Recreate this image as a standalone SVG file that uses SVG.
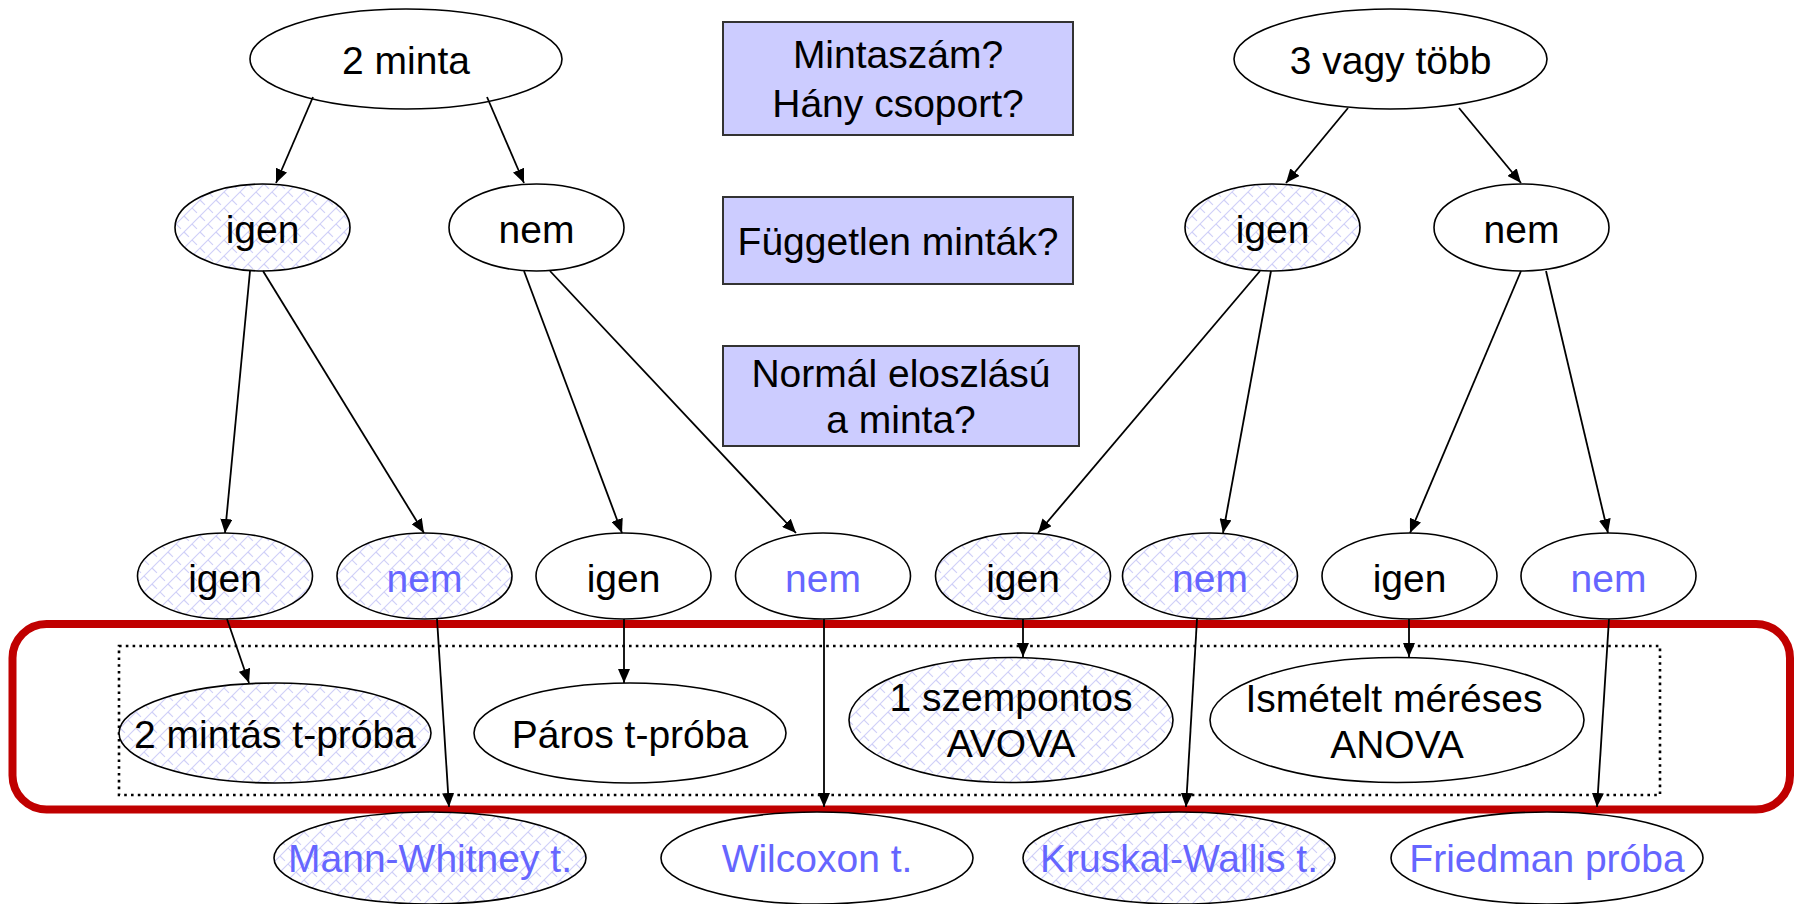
<svg xmlns="http://www.w3.org/2000/svg" width="1801" height="904" viewBox="0 0 1801 904">
<style>
text{font-family:"Liberation Sans",Arial,sans-serif;font-size:39px;text-anchor:middle;fill:#000}
.b{fill:#6666ff}
.n{stroke:#000;stroke-width:1.6;fill:#fff}
.h{stroke:#000;stroke-width:1.6;fill:url(#hatch)}
.q{fill:#ccccff;stroke:#333;stroke-width:2}
.c line{stroke:#000;stroke-width:1.8;marker-end:url(#ah)}
</style>
<defs>
<pattern id="hatch" patternUnits="userSpaceOnUse" width="16" height="16">
<rect width="16" height="16" fill="#fff"/>
<path d="M0,16 L16,0 M-4,4 L4,-4 M12,20 L20,12" stroke="#cfcff8" stroke-width="1.1"/>
<path d="M0,0 L16,16" stroke="#cfcff8" stroke-width="1.1" stroke-dasharray="7 4.3"/>
</pattern>
<marker id="ah" markerUnits="userSpaceOnUse" markerWidth="14" markerHeight="12" refX="14" refY="6" orient="auto">
<path d="M0,0 L14,6 L0,12 z" fill="#000"/>
</marker>
</defs>
<rect width="1801" height="904" fill="#fff"/>
<g id="frames">
<rect x="12.5" y="624" width="1777.5" height="185.5" rx="34" fill="none" stroke="#c00000" stroke-width="8"/>
<rect x="119" y="646" width="1541" height="149" fill="none" stroke="#000" stroke-width="2.6" stroke-dasharray="2.6 4.2"/>
</g>
<g id="q1"><rect class="q" x="723" y="22" width="350" height="113"/><text x="898" y="68">Mintaszám?</text><text x="898" y="117">Hány csoport?</text></g>
<g id="q2"><rect class="q" x="723" y="197" width="350" height="87"/><text x="898" y="255">Független minták?</text></g>
<g id="q3"><rect class="q" x="723" y="346" width="356" height="100"/><text x="901" y="387">Normál eloszlású</text><text x="901" y="433">a minta?</text></g>
<g id="n_2minta"><ellipse class="n" cx="406" cy="59" rx="156" ry="50"/><text x="406" y="74">2 minta</text></g>
<g id="n_3vagy"><ellipse class="n" cx="1390.5" cy="59" rx="156.5" ry="50"/><text x="1390.5" y="74">3 vagy több</text></g>
<g id="n_igen_a"><ellipse class="h" cx="262.5" cy="227.5" rx="87.5" ry="43.5"/><text x="262.5" y="243">igen</text></g>
<g id="n_nem_a"><ellipse class="n" cx="536.5" cy="227.5" rx="87.5" ry="43.5"/><text x="536.5" y="243">nem</text></g>
<g id="n_igen_b"><ellipse class="h" cx="1272.5" cy="227.5" rx="87.5" ry="43.5"/><text x="1272.5" y="243">igen</text></g>
<g id="n_nem_b"><ellipse class="n" cx="1521.5" cy="227.5" rx="87.5" ry="43.5"/><text x="1521.5" y="243">nem</text></g>
<g id="l3_1"><ellipse class="h" cx="225" cy="576" rx="87.5" ry="43"/><text x="225" y="592">igen</text></g>
<g id="l3_2"><ellipse class="h" cx="424.5" cy="576" rx="87.5" ry="43"/><text class="b" x="424.5" y="592">nem</text></g>
<g id="l3_3"><ellipse class="n" cx="623.5" cy="576" rx="87.5" ry="43"/><text x="623.5" y="592">igen</text></g>
<g id="l3_4"><ellipse class="n" cx="823" cy="576" rx="87.5" ry="43"/><text class="b" x="823" y="592">nem</text></g>
<g id="l3_5"><ellipse class="h" cx="1023" cy="576" rx="87.5" ry="43"/><text x="1023" y="592">igen</text></g>
<g id="l3_6"><ellipse class="h" cx="1210" cy="576" rx="87.5" ry="43"/><text class="b" x="1210" y="592">nem</text></g>
<g id="l3_7"><ellipse class="n" cx="1409.5" cy="576" rx="87.5" ry="43"/><text x="1409.5" y="592">igen</text></g>
<g id="l3_8"><ellipse class="n" cx="1608.5" cy="576" rx="87.5" ry="43"/><text class="b" x="1608.5" y="592">nem</text></g>
<g id="t_2mintas"><ellipse class="h" cx="275" cy="733" rx="156" ry="50"/><text x="275" y="748">2 mintás t-próba</text></g>
<g id="t_paros"><ellipse class="n" cx="630" cy="733" rx="156" ry="50"/><text x="630" y="748">Páros t-próba</text></g>
<g id="t_1szemp"><ellipse class="h" cx="1011" cy="720" rx="162" ry="62.5"/><text x="1011" y="711">1 szempontos</text><text x="1011" y="757">AVOVA</text></g>
<g id="t_ismetelt"><ellipse class="n" cx="1397" cy="720" rx="187" ry="62.5"/><text x="1394" y="712">Ismételt méréses</text><text x="1397" y="758">ANOVA</text></g>
<g id="t_mann"><ellipse class="h" cx="430" cy="858" rx="156" ry="46"/><text class="b" x="430" y="872">Mann-Whitney t.</text></g>
<g id="t_wilcoxon"><ellipse class="n" cx="817" cy="858" rx="156" ry="46"/><text class="b" x="817" y="872">Wilcoxon t.</text></g>
<g id="t_kruskal"><ellipse class="h" cx="1179" cy="858" rx="156" ry="46"/><text class="b" x="1179" y="872">Kruskal-Wallis t.</text></g>
<g id="t_friedman"><ellipse class="n" cx="1547" cy="858" rx="156" ry="46"/><text class="b" x="1547" y="872">Friedman próba</text></g>
<g id="connectors" class="c">
<line x1="313" y1="97" x2="276" y2="183"/>
<line x1="487" y1="97" x2="524" y2="183"/>
<line x1="1348" y1="108" x2="1286" y2="183"/>
<line x1="1459" y1="108" x2="1521" y2="183"/>
<line x1="250" y1="271" x2="225" y2="533"/>
<line x1="263" y1="271" x2="424" y2="533"/>
<line x1="524" y1="271" x2="622" y2="533"/>
<line x1="550" y1="271" x2="796" y2="533"/>
<line x1="1260" y1="271" x2="1038" y2="533"/>
<line x1="1271" y1="271" x2="1223" y2="533"/>
<line x1="1521" y1="271" x2="1410" y2="533"/>
<line x1="1546" y1="271" x2="1608" y2="533"/>
<line x1="227" y1="619" x2="249" y2="683"/>
<line x1="437" y1="619" x2="449" y2="807"/>
<line x1="624" y1="619" x2="624" y2="683"/>
<line x1="824" y1="619" x2="824" y2="807"/>
<line x1="1023" y1="619" x2="1023" y2="657"/>
<line x1="1197" y1="619" x2="1186" y2="807"/>
<line x1="1409" y1="619" x2="1409" y2="657"/>
<line x1="1609" y1="619" x2="1597" y2="807"/>
</g>
</svg>
